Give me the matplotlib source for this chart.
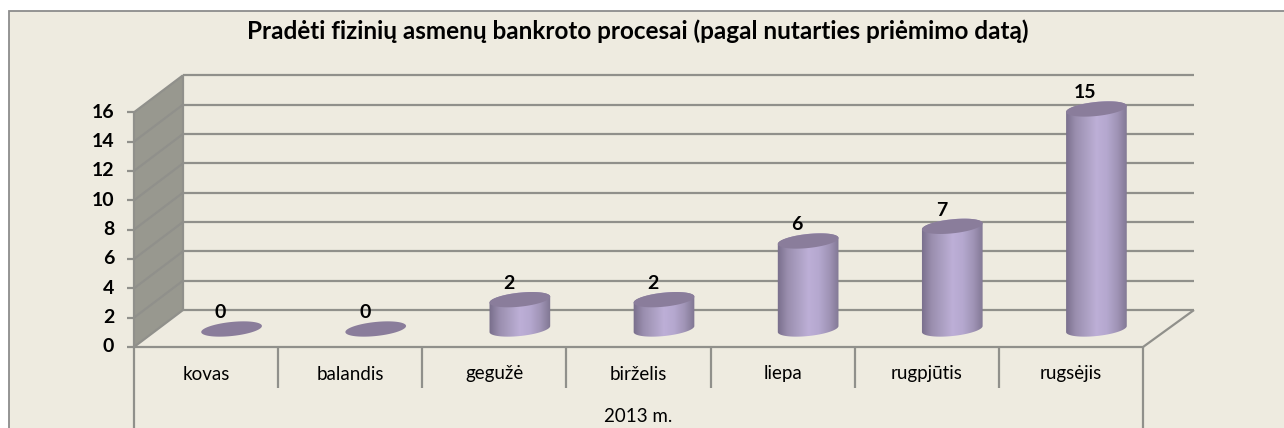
#!/usr/bin/env python
"""Pradeti fiziniu asmenu bankroto procesai - 3D style cylinder chart."""
import numpy as np
import matplotlib
matplotlib.use("Agg")
import matplotlib.pyplot as plt
from matplotlib.colors import LinearSegmentedColormap
from matplotlib.patches import Polygon, Rectangle

months = ["kovas", "balandis", "gegužė", "birželis", "liepa", "rugpjūtis", "rugsėjis"]
counts = [0, 0, 2, 2, 6, 7, 15]
yticks = [0, 2, 4, 6, 8, 10, 12, 14, 16]
year_label = "2013 m."
title = "Pradėti fizinių asmenų bankroto procesai (pagal nutarties priėmimo datą)"

BG = "#eeebe0"
GRID = "#90908b"
WALL = "#98988f"
TOP = "#8a7d9b"
W, H = 1284, 428

# pixel scale of the front plane
PX = (1143 - 134) / 7
PY = (347 - 112.3) / 16
DX = 49 / PX
DY = 37 / PY

plt.rcParams["font.family"] = ["Lato", "DejaVu Sans"]

fig = plt.figure(figsize=(W / 100, H / 100), dpi=100, facecolor="white")
fig.add_artist(Rectangle((9 / W, -0.1), 1.1, 1.1 - 10.5 / H, transform=fig.transFigure,
                         facecolor=BG, edgecolor="#8c8c8c", lw=1.3, zorder=-1))
ax = fig.add_axes([0, 0, 1, 1])
ax.patch.set_alpha(0)
ax.axis("off")

n = len(months)
top = max(yticks)
line = dict(color=GRID, lw=1.6, solid_capstyle="butt", zorder=2)

# left wall, gridlines, floor
ax.add_patch(Polygon([(0, 0), (DX, DY), (DX, top + DY), (0, top)], facecolor=WALL,
                     edgecolor="none", zorder=1))
for v in yticks:
    ax.plot([DX, n + DX + 2 / PX], [v + DY, v + DY], **line)
    ax.plot([0, DX], [v, v + DY], **line)
    ax.plot([-7 / PX, 0], [v, v], **line)
    ax.text(-20 / PX, v, str(v), ha="right", va="center", fontsize=14, fontweight="bold", color="black")
ax.plot([0, 0], [0, top], **line)
ax.plot([DX, DX], [DY, top + DY], **line)
ax.plot([0, n, n + DX + 2 / PX], [0, 0, DY], **line)

# category table below the floor
for i in range(n + 1):
    low = -81 / PY if i in (0, n) else -41 / PY
    ax.plot([i, i], [0, low], **line)
for i, m in enumerate(months):
    ax.text(i + 0.5, -27 / PY, m, ha="center", va="center", fontsize=13.5, color="black")
ax.text(n / 2, -69 / PY, year_label, ha="center", va="center", fontsize=13.5, color="black")


def ellipse(cx, cy, t):
    a, b, rot = 30.5, 7, np.radians(6)
    px = a * np.cos(t) * np.cos(rot) - b * np.sin(t) * np.sin(rot)
    py = a * np.cos(t) * np.sin(rot) + b * np.sin(t) * np.cos(rot)
    return cx + px / PX, cy + py / PY


cmap = LinearSegmentedColormap.from_list(
    "cyl", ["#776d8a", "#9a8eae", "#ab9fc2", "#bdafd7", "#b5a8cf", "#a094b6", "#7f7591"])
grad = np.linspace(0, 1, 256).reshape(1, -1)

for i, v in enumerate(counts):
    cx = i + 0.5 + 0.5 * DX + 1 / PX
    cy = 0.5 * DY - 0.5 / PY
    if v > 0:
        # outline: lower half of the base, then the far rim of the top
        bx, by = ellipse(cx, cy, np.linspace(np.pi, 2 * np.pi, 60))
        tx, ty = ellipse(cx, cy + v, np.linspace(0, np.pi, 60))
        body = Polygon(np.column_stack([np.r_[bx, tx], np.r_[by, ty]]), transform=ax.transData,
                       facecolor="none", edgecolor="none")
        ax.add_patch(body)
        im = ax.imshow(grad, cmap=cmap, aspect="auto", zorder=3,
                       extent=[cx - 31 / PX, cx + 31 / PX, cy - 8 / PY, cy + v + 8 / PY])
        im.set_clip_path(body)
    ex, ey = ellipse(cx, cy + v, np.linspace(0, 2 * np.pi, 120))
    ax.fill(ex, ey, color=TOP, lw=0, zorder=4)
    ax.text(i + 0.5 + 14.5 / PX, v + 34 / PY, str(v), ha="center", va="center",
            fontsize=14, fontweight="bold", color="black", zorder=5)

ax.text((638 - 134) / PX, (347 - 31) / PY, title, ha="center", va="center",
        fontsize=17.5, fontweight="bold", color="black")

ax.set_xlim(-134 / PX, (W - 134) / PX)
ax.set_ylim((347 - H) / PY, 347 / PY)

fig.savefig("out.png", dpi=100, facecolor="white")
plt.close(fig)
